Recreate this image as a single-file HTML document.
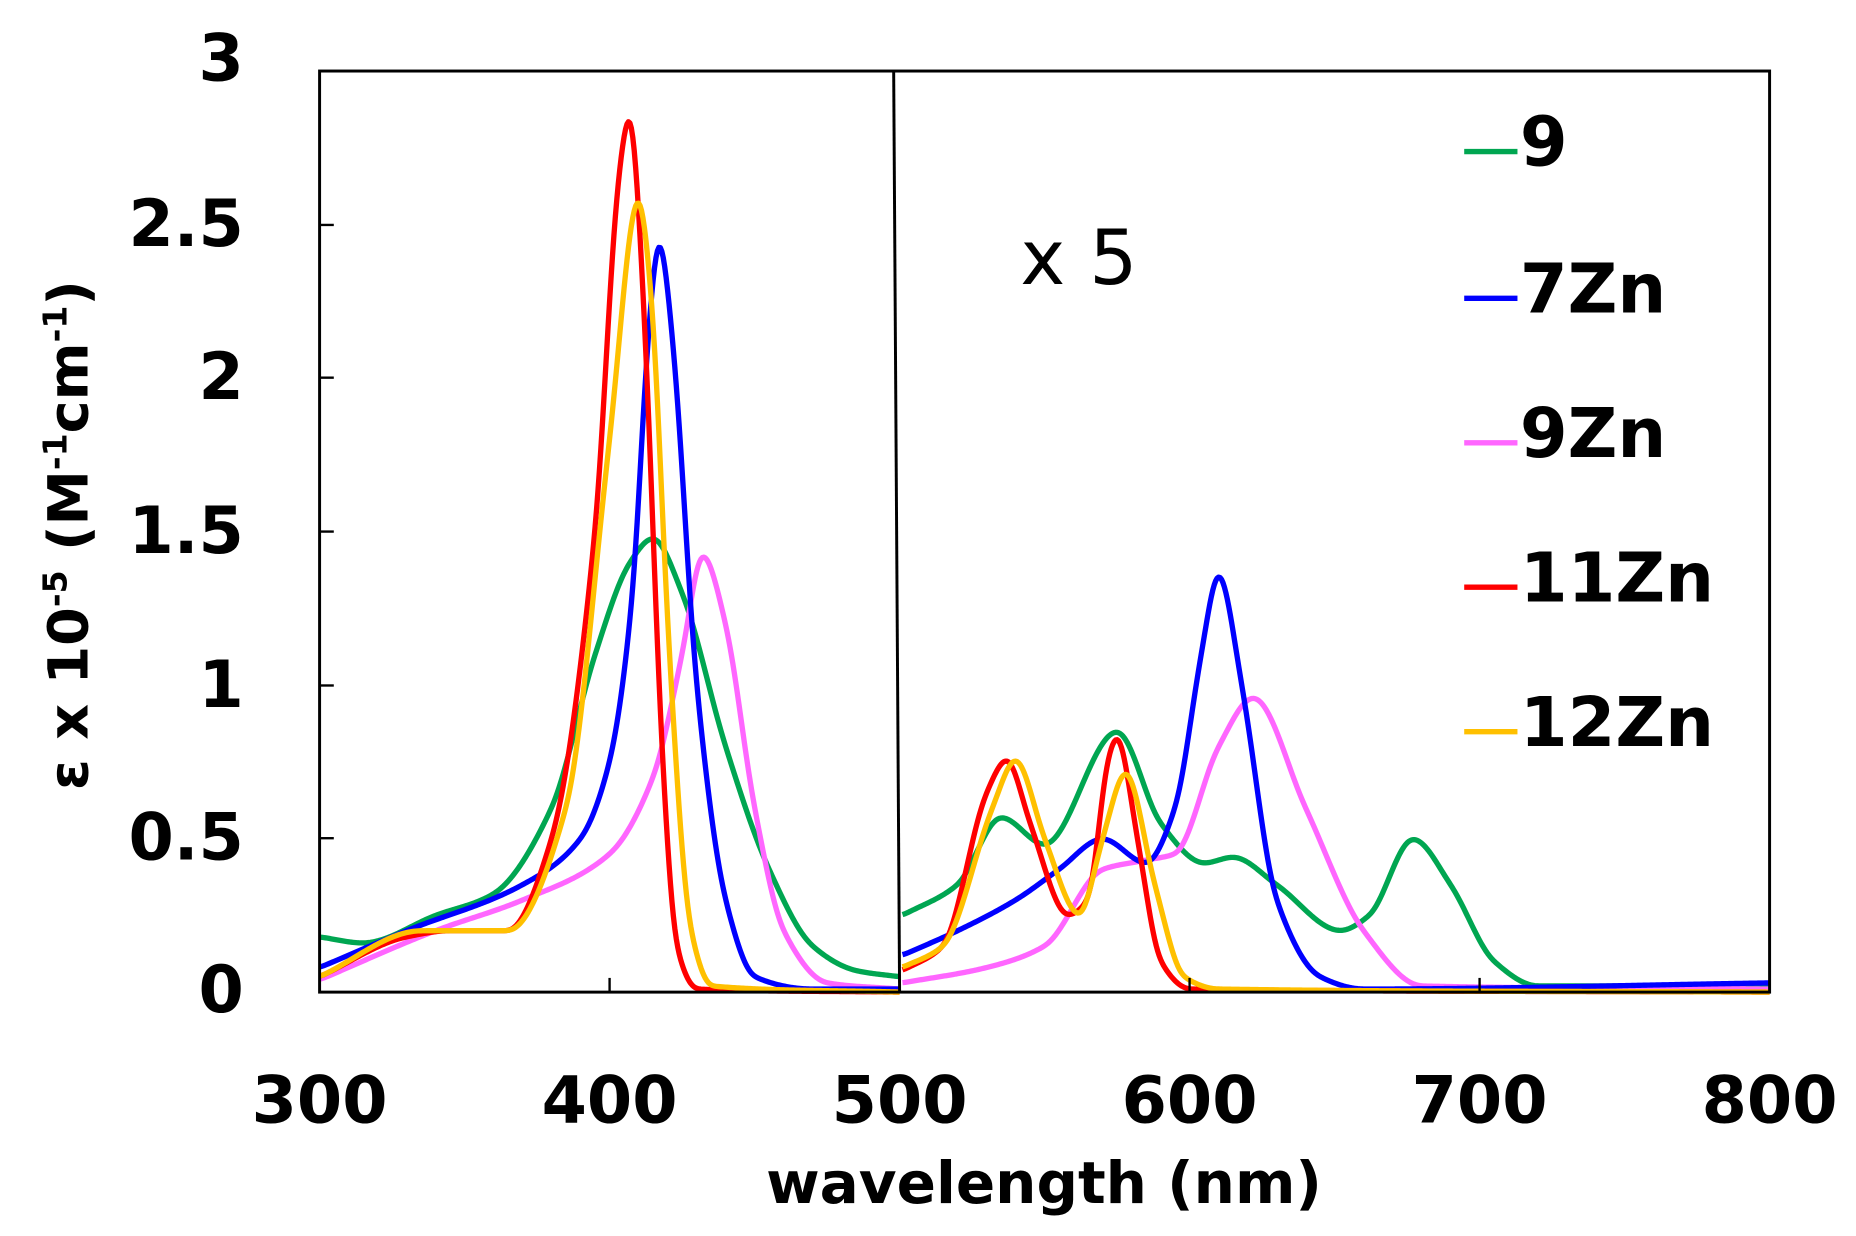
<!DOCTYPE html>
<html><head><meta charset="utf-8"><style>
html,body{margin:0;padding:0;background:#fff;}
svg{display:block;}
text{font-family:"DejaVu Sans","Liberation Sans",sans-serif;}
</style></head><body>
<svg id="s" width="1856" height="1236" viewBox="0 0 1568 1044" preserveAspectRatio="none" xmlns="http://www.w3.org/2000/svg">
<rect x="0" y="0" width="1568" height="1044" fill="#fff"/>
<g id="curves" fill="none" stroke-width="4.5" stroke-linejoin="round"></g>
<rect x="270" y="60" width="1225" height="778" fill="none" stroke="#000" stroke-width="2.5"/>
<line x1="755" y1="60" x2="760" y2="838" stroke="#000" stroke-width="2.5"/>
<g stroke="#000" stroke-width="2">
<line x1="515" y1="838" x2="515" y2="826"/><line x1="1005" y1="838" x2="1005" y2="826"/><line x1="1250" y1="838" x2="1250" y2="826"/>
<line x1="270" y1="190" x2="282" y2="190"/><line x1="270" y1="319" x2="282" y2="319"/><line x1="270" y1="449" x2="282" y2="449"/><line x1="270" y1="579" x2="282" y2="579"/><line x1="270" y1="708" x2="282" y2="708"/>
</g>
<g font-weight="bold" font-size="55" text-anchor="end" fill="#000">
<text x="206" y="68">3</text><text x="206" y="208">2.5</text><text x="206" y="337">2</text>
<text x="206" y="467">1.5</text><text x="206" y="597">1</text><text x="206" y="726">0.5</text><text x="206" y="855">0</text>
</g>
<g font-weight="bold" font-size="55" text-anchor="middle" fill="#000">
<text x="270" y="948">300</text><text x="515" y="948">400</text><text x="760" y="948">500</text>
<text x="1005" y="948">600</text><text x="1250" y="948">700</text><text x="1495" y="948">800</text>
</g>
<text x="882" y="1016" font-weight="bold" font-size="49" text-anchor="middle">wavelength (nm)</text>
<text transform="translate(74,452) rotate(-90)" font-weight="bold" font-size="47" text-anchor="middle">ε x 10<tspan font-size="28" dy="-18">-5</tspan><tspan dy="18"> (M</tspan><tspan font-size="28" dy="-18">-1</tspan><tspan dy="18">cm</tspan><tspan font-size="28" dy="-18">-1</tspan><tspan dy="18">)</tspan></text>
<text x="862" y="240" font-size="64">x 5</text>
<g font-weight="bold" font-size="58" fill="#000">
<line x1="1237" y1="128" x2="1282" y2="128" stroke="#00a651" stroke-width="4.5"/><text x="1284" y="140">9</text>
<line x1="1237" y1="252" x2="1282" y2="252" stroke="#0000ff" stroke-width="4.5"/><text x="1284" y="264">7Zn</text>
<line x1="1237" y1="374" x2="1282" y2="374" stroke="#ff66ff" stroke-width="4.5"/><text x="1284" y="386">9Zn</text>
<line x1="1237" y1="496" x2="1282" y2="496" stroke="#ff0000" stroke-width="4.5"/><text x="1284" y="508">11Zn</text>
<line x1="1237" y1="618" x2="1282" y2="618" stroke="#ffc000" stroke-width="4.5"/><text x="1284" y="630">12Zn</text>
</g>
</svg>
<script>
const X=w=>270+(w-300)*2.45, Y=v=>838-v*259.3;
const data={
"#00a651":[[[300,.18],[315,.16],[340,.25],[360,.32],[380,.6],[395,1.1],[407,1.4],[415,1.48],[425,1.3],[440,.8],[455,.4],[470,.15],[485,.07],[500,.05]],
 [[501,.25],[520,.35],[535,.57],[550,.48],[575,.85],[590,.55],[605,.42],[615,.44],[630,.35],[652,.2],[662,.25],[677,.5],[690,.35],[705,.1],[720,.02],[800,.02]]],
"#ff66ff":[[[300,.04],[340,.2],[370,.3],[400,.45],[415,.7],[425,1.1],[432,1.43],[440,1.2],[450,.6],[460,.2],[475,.03],[500,.01]],
 [[501,.03],[530,.08],[550,.15],[570,.4],[585,.43],[595,.45],[610,.8],[622,.96],[640,.6],[660,.2],[680,.02],[800,.01]]],
"#0000ff":[[[300,.08],[330,.2],[370,.35],[390,.5],[400,.75],[408,1.3],[413,2.1],[417,2.47],[422,2.1],[430,1.0],[440,.3],[450,.05],[470,.01],[500,.01]],
 [[501,.12],[520,.2],[540,.3],[555,.4],[570,.5],[585,.42],[595,.6],[604,1.1],[610,1.37],[618,1.0],[630,.3],[645,.05],[660,.01],[800,.03]]],
"#ff0000":[[[300,.05],[330,.18],[345,.2],[365,.2],[380,.5],[395,1.5],[403,2.65],[407,2.88],[412,2.2],[418,.8],[423,.15],[430,.01],[500,0]],
 [[501,.07],[515,.15],[530,.65],[537,.76],[545,.55],[558,.25],[565,.3],[572,.77],[575,.84],[582,.5],[590,.1],[600,.01],[800,0]]],
"#ffc000":[[[300,.05],[335,.2],[365,.2],[385,.6],[400,1.8],[410,2.6],[415,2.2],[420,1.2],[428,.2],[435,.02],[500,0]],
 [[501,.08],[515,.15],[532,.6],[540,.76],[550,.5],[562,.25],[570,.5],[578,.72],[588,.35],[598,.05],[610,.01],[800,0]]]};
function mono(pts){const n=pts.length,xs=pts.map(p=>p[0]),ys=pts.map(p=>p[1]);const d=[],m=[];
 for(let i=0;i<n-1;i++)d.push((ys[i+1]-ys[i])/(xs[i+1]-xs[i]));
 m[0]=d[0];m[n-1]=d[n-2];for(let i=1;i<n-1;i++){if(d[i-1]*d[i]<=0)m[i]=0;else{const w1=2*(xs[i+1]-xs[i])+(xs[i]-xs[i-1]),w2=(xs[i+1]-xs[i])+2*(xs[i]-xs[i-1]);m[i]=(w1+w2)/(w1/d[i-1]+w2/d[i]);}}
 const f=x=>{let i=0;while(i<n-2&&x>xs[i+1])i++;const h=xs[i+1]-xs[i],t=(x-xs[i])/h,t2=t*t,t3=t2*t;
   return (2*t3-3*t2+1)*ys[i]+(t3-2*t2+t)*h*m[i]+(-2*t3+3*t2)*ys[i+1]+(t3-t2)*h*m[i+1];};
 const x0=xs[0],x1=xs[n-1],out=[];const sig=1.3;
 for(let x=x0;x<=x1+1e-9;x+=0.5){let s=0,ws=0;for(let k=-4;k<=4;k+=0.5){const xx=Math.min(x1,Math.max(x0,x+k*sig));const w=Math.exp(-k*k/2);s+=w*f(xx);ws+=w;}
  out.push([x,Math.max(0,s/ws)]);}
 return out;}
const g=document.getElementById('curves');
for(const c in data){for(const seg of data[c]){
 const p=mono(seg);const d='M'+p.map(([w,v])=>X(w).toFixed(2)+','+Y(v).toFixed(2)).join(' L');
 const e=document.createElementNS('http://www.w3.org/2000/svg','path');e.setAttribute('d',d);e.setAttribute('stroke',c);g.appendChild(e);}}
</script>
</body></html>
